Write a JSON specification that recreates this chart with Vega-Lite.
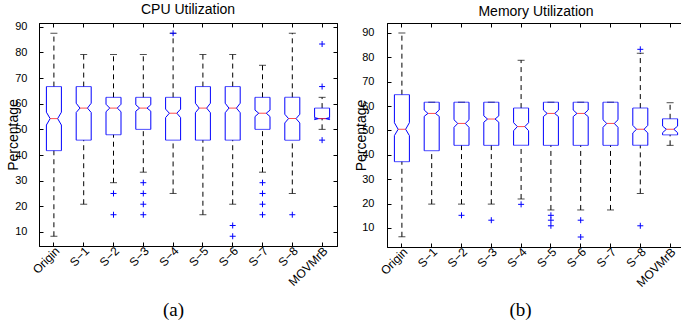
{
  "$schema": "https://vega.github.io/schema/vega-lite/v6.json",
  "padding": {"left": 5, "top": 2, "right": 0, "bottom": 0},
  "background": "white",
  "datasets": {
    "boxes": [
      {"panel": "CPU", "cat": "Origin", "lo": 8.3, "q1": 41.7, "nlo": 51.7, "med": 54.2, "nhi": 56.7, "q3": 66.7, "hi": 87.5},
      {"panel": "CPU", "cat": "S−1", "lo": 20.8, "q1": 45.8, "nlo": 56.6, "med": 58.3, "nhi": 60.2, "q3": 66.7, "hi": 79.2},
      {"panel": "CPU", "cat": "S−2", "lo": 29.2, "q1": 47.9, "nlo": 56.9, "med": 58.3, "nhi": 59.8, "q3": 62.5, "hi": 79.2},
      {"panel": "CPU", "cat": "S−3", "lo": 33.3, "q1": 50, "nlo": 57.1, "med": 58.3, "nhi": 59.6, "q3": 62.5, "hi": 79.2},
      {"panel": "CPU", "cat": "S−4", "lo": 25, "q1": 45.8, "nlo": 54.6, "med": 56.3, "nhi": 57.9, "q3": 62.5, "hi": 87.5},
      {"panel": "CPU", "cat": "S−5", "lo": 16.7, "q1": 45.8, "nlo": 56.5, "med": 58.3, "nhi": 60.2, "q3": 66.7, "hi": 79.2},
      {"panel": "CPU", "cat": "S−6", "lo": 20.8, "q1": 45.8, "nlo": 56.5, "med": 58.3, "nhi": 60.2, "q3": 66.7, "hi": 79.2},
      {"panel": "CPU", "cat": "S−7", "lo": 33.3, "q1": 50, "nlo": 55, "med": 56.3, "nhi": 57.5, "q3": 62.5, "hi": 75},
      {"panel": "CPU", "cat": "S−8", "lo": 25, "q1": 45.8, "nlo": 52.5, "med": 54.2, "nhi": 55.9, "q3": 62.5, "hi": 87.5},
      {"panel": "CPU", "cat": "MOVMrB", "lo": 50, "q1": 54.2, "nlo": 53.8, "med": 54.2, "nhi": 54.6, "q3": 58.3, "hi": 62.5},
      {"panel": "Memory", "cat": "Origin", "lo": 6.4, "q1": 37.2, "nlo": 47.9, "med": 50.5, "nhi": 53.2, "q3": 64.7, "hi": 90},
      {"panel": "Memory", "cat": "S−1", "lo": 19.8, "q1": 41.7, "nlo": 55.8, "med": 57.0, "nhi": 58.4, "q3": 61.6, "hi": 61.6},
      {"panel": "Memory", "cat": "S−2", "lo": 19.8, "q1": 43.9, "nlo": 51.3, "med": 52.9, "nhi": 54.4, "q3": 61.6, "hi": 61.6},
      {"panel": "Memory", "cat": "S−3", "lo": 19.8, "q1": 43.9, "nlo": 53.4, "med": 54.7, "nhi": 56.0, "q3": 61.6, "hi": 61.6},
      {"panel": "Memory", "cat": "S−4", "lo": 21.9, "q1": 43.9, "nlo": 49.9, "med": 51.6, "nhi": 53.2, "q3": 59.2, "hi": 78.8},
      {"panel": "Memory", "cat": "S−5", "lo": 17.4, "q1": 43.9, "nlo": 55.7, "med": 57.0, "nhi": 58.4, "q3": 61.6, "hi": 61.6},
      {"panel": "Memory", "cat": "S−6", "lo": 17.4, "q1": 43.9, "nlo": 55.7, "med": 57.0, "nhi": 58.4, "q3": 61.6, "hi": 61.6},
      {"panel": "Memory", "cat": "S−7", "lo": 17.4, "q1": 43.9, "nlo": 51.3, "med": 52.9, "nhi": 54.4, "q3": 61.6, "hi": 61.6},
      {"panel": "Memory", "cat": "S−8", "lo": 24.2, "q1": 43.9, "nlo": 49.0, "med": 50.5, "nhi": 52.1, "q3": 59.2, "hi": 81.7},
      {"panel": "Memory", "cat": "MOVMrB", "lo": 43.9, "q1": 48.2, "nlo": 49.1, "med": 50.5, "nhi": 51.8, "q3": 54.8, "hi": 61.4}
    ],
    "outliers": [
      {"panel": "CPU", "cat": "S−2", "v": 25},
      {"panel": "CPU", "cat": "S−2", "v": 16.7},
      {"panel": "CPU", "cat": "S−3", "v": 29.2},
      {"panel": "CPU", "cat": "S−3", "v": 25},
      {"panel": "CPU", "cat": "S−3", "v": 20.8},
      {"panel": "CPU", "cat": "S−3", "v": 16.7},
      {"panel": "CPU", "cat": "S−4", "v": 87.5},
      {"panel": "CPU", "cat": "S−6", "v": 12.5},
      {"panel": "CPU", "cat": "S−6", "v": 8.3},
      {"panel": "CPU", "cat": "S−7", "v": 29.2},
      {"panel": "CPU", "cat": "S−7", "v": 25},
      {"panel": "CPU", "cat": "S−7", "v": 20.8},
      {"panel": "CPU", "cat": "S−7", "v": 16.7},
      {"panel": "CPU", "cat": "S−8", "v": 16.7},
      {"panel": "CPU", "cat": "MOVMrB", "v": 83.3},
      {"panel": "CPU", "cat": "MOVMrB", "v": 66.7},
      {"panel": "CPU", "cat": "MOVMrB", "v": 45.8},
      {"panel": "Memory", "cat": "S−2", "v": 15.2},
      {"panel": "Memory", "cat": "S−3", "v": 13.2},
      {"panel": "Memory", "cat": "S−4", "v": 19.7},
      {"panel": "Memory", "cat": "S−5", "v": 15.2},
      {"panel": "Memory", "cat": "S−5", "v": 13.2},
      {"panel": "Memory", "cat": "S−5", "v": 10.9},
      {"panel": "Memory", "cat": "S−6", "v": 13.2},
      {"panel": "Memory", "cat": "S−6", "v": 6.3},
      {"panel": "Memory", "cat": "S−8", "v": 83.3},
      {"panel": "Memory", "cat": "S−8", "v": 10.9}
    ]
  },
  "spacing": 50,
  "bounds": "flush",
  "hconcat": [
    {
      "width": 298,
      "height": 223,
      "title": {"text": "CPU Utilization", "anchor": "middle", "baseline": "alphabetic", "offset": -7},
      "data": {"name": "boxes"},
      "transform": [{"filter": "datum.panel === 'CPU'"}],
      "layer": [
        {
          "mark": {"type": "rule", "color": "black", "strokeWidth": 1, "strokeDash": [5, 4]},
          "encoding": {
            "x": {"field": "cat", "type": "nominal", "scale": {"domain": ["Origin", "S−1", "S−2", "S−3", "S−4", "S−5", "S−6", "S−7", "S−8", "MOVMrB"], "paddingInner": 0, "paddingOuter": 0},
              "axis": {"orient": "bottom", "labelAngle": -45, "labelFontSize": 12, "tickSize": -4, "labelPadding": 3, "title": "(a)", "titleFont": "Liberation Serif", "titleFontSize": 19, "titleFontWeight": "normal", "titleX": 134, "titleY": 69, "titleAlign": "center", "titleBaseline": "alphabetic"}},
            "y": {"field": "q3", "type": "quantitative", "scale": {"domain": [4.5, 91.5], "nice": false, "zero": false},
              "axis": {"orient": "left", "values": [10, 20, 30, 40, 50, 60, 70, 80, 90], "tickSize": -4, "labelPadding": 16, "labelFontSize": 11, "title": "Percentage", "titleFontSize": 14, "titleFontWeight": "normal", "titleX": -22, "titleBaseline": "alphabetic"}},
            "y2": {"field": "hi"}
          }
        },
        {
          "mark": {"type": "rule", "color": "black", "strokeWidth": 1, "strokeDash": [5, 4]},
          "encoding": {
            "x": {"field": "cat", "type": "nominal", "scale": {"domain": ["Origin", "S−1", "S−2", "S−3", "S−4", "S−5", "S−6", "S−7", "S−8", "MOVMrB"], "paddingInner": 0, "paddingOuter": 0},
              "axis": {"orient": "top", "labels": false, "tickSize": -4, "title": null}},
            "y": {"field": "lo", "type": "quantitative", "scale": {"domain": [4.5, 91.5], "nice": false, "zero": false},
              "axis": {"orient": "right", "values": [10, 20, 30, 40, 50, 60, 70, 80, 90], "labels": false, "tickSize": -4, "title": null}},
            "y2": {"field": "q1"}
          }
        },
        {
          "mark": {"type": "tick", "color": "black", "size": 7, "thickness": 1},
          "encoding": {
            "x": {"field": "cat", "type": "nominal", "scale": {"domain": ["Origin", "S−1", "S−2", "S−3", "S−4", "S−5", "S−6", "S−7", "S−8", "MOVMrB"], "paddingInner": 0, "paddingOuter": 0}, "axis": null},
            "y": {"field": "hi", "type": "quantitative", "scale": {"domain": [4.5, 91.5], "nice": false, "zero": false}, "axis": null}
          }
        },
        {
          "mark": {"type": "tick", "color": "black", "size": 7, "thickness": 1},
          "encoding": {
            "x": {"field": "cat", "type": "nominal", "scale": {"domain": ["Origin", "S−1", "S−2", "S−3", "S−4", "S−5", "S−6", "S−7", "S−8", "MOVMrB"], "paddingInner": 0, "paddingOuter": 0}, "axis": null},
            "y": {"field": "lo", "type": "quantitative", "scale": {"domain": [4.5, 91.5], "nice": false, "zero": false}, "axis": null}
          }
        },
        {
          "transform": [
            {"fold": ["q1", "nlo", "med", "nhi", "q3"], "as": ["stat", "val"]},
            {"lookup": "stat", "from": {"data": {"values": [{"stat": "q1", "part": "outer", "ord": 1}, {"stat": "nlo", "part": "outer", "ord": 2}, {"stat": "med", "part": "inner", "ord": 3}, {"stat": "nhi", "part": "outer", "ord": 4}, {"stat": "q3", "part": "outer", "ord": 5}]}, "key": "stat", "fields": ["part", "ord"]}}
          ],
          "mark": {"type": "line", "color": "#0000ff", "strokeWidth": 1},
          "encoding": {
            "x": {"field": "cat", "type": "nominal", "scale": {"domain": ["Origin", "S−1", "S−2", "S−3", "S−4", "S−5", "S−6", "S−7", "S−8", "MOVMrB"], "paddingInner": 0, "paddingOuter": 0}, "axis": null},
            "xOffset": {"field": "part", "type": "nominal", "scale": {"type": "point", "domain": ["outer", "inner"], "range": [7.4, 11.15], "padding": 0}},
            "y": {"field": "val", "type": "quantitative", "scale": {"domain": [4.5, 91.5], "nice": false, "zero": false}, "axis": null},
            "detail": {"field": "cat"},
            "order": {"field": "ord", "type": "quantitative"}
          }
        },
        {
          "transform": [
            {"fold": ["q1", "nlo", "med", "nhi", "q3"], "as": ["stat", "val"]},
            {"lookup": "stat", "from": {"data": {"values": [{"stat": "q1", "part": "outer", "ord": 1}, {"stat": "nlo", "part": "outer", "ord": 2}, {"stat": "med", "part": "inner", "ord": 3}, {"stat": "nhi", "part": "outer", "ord": 4}, {"stat": "q3", "part": "outer", "ord": 5}]}, "key": "stat", "fields": ["part", "ord"]}}
          ],
          "mark": {"type": "line", "color": "#0000ff", "strokeWidth": 1},
          "encoding": {
            "x": {"field": "cat", "type": "nominal", "scale": {"domain": ["Origin", "S−1", "S−2", "S−3", "S−4", "S−5", "S−6", "S−7", "S−8", "MOVMrB"], "paddingInner": 0, "paddingOuter": 0}, "axis": null},
            "xOffset": {"field": "part", "type": "nominal", "scale": {"type": "point", "domain": ["outer", "inner"], "range": [22.4, 18.65], "padding": 0}},
            "y": {"field": "val", "type": "quantitative", "scale": {"domain": [4.5, 91.5], "nice": false, "zero": false}, "axis": null},
            "detail": {"field": "cat"},
            "order": {"field": "ord", "type": "quantitative"}
          }
        },
        {
          "mark": {"type": "tick", "color": "#0000ff", "size": 15, "thickness": 1},
          "encoding": {
            "x": {"field": "cat", "type": "nominal", "scale": {"domain": ["Origin", "S−1", "S−2", "S−3", "S−4", "S−5", "S−6", "S−7", "S−8", "MOVMrB"], "paddingInner": 0, "paddingOuter": 0}, "axis": null},
            "y": {"field": "q3", "type": "quantitative", "scale": {"domain": [4.5, 91.5], "nice": false, "zero": false}, "axis": null}
          }
        },
        {
          "mark": {"type": "tick", "color": "#0000ff", "size": 15, "thickness": 1},
          "encoding": {
            "x": {"field": "cat", "type": "nominal", "scale": {"domain": ["Origin", "S−1", "S−2", "S−3", "S−4", "S−5", "S−6", "S−7", "S−8", "MOVMrB"], "paddingInner": 0, "paddingOuter": 0}, "axis": null},
            "y": {"field": "q1", "type": "quantitative", "scale": {"domain": [4.5, 91.5], "nice": false, "zero": false}, "axis": null}
          }
        },
        {
          "mark": {"type": "tick", "color": "#ff0000", "size": 7.5, "thickness": 1},
          "encoding": {
            "x": {"field": "cat", "type": "nominal", "scale": {"domain": ["Origin", "S−1", "S−2", "S−3", "S−4", "S−5", "S−6", "S−7", "S−8", "MOVMrB"], "paddingInner": 0, "paddingOuter": 0}, "axis": null},
            "y": {"field": "med", "type": "quantitative", "scale": {"domain": [4.5, 91.5], "nice": false, "zero": false}, "axis": null}
          }
        },
        {
          "data": {"name": "outliers"},
          "transform": [{"filter": "datum.panel === 'CPU'"}],
          "mark": {"type": "point", "shape": "M-1,0L1,0M0,-1L0,1", "filled": false, "color": "#0000ff", "strokeWidth": 1, "size": 36, "opacity": 1},
          "encoding": {
            "x": {"field": "cat", "type": "nominal", "scale": {"domain": ["Origin", "S−1", "S−2", "S−3", "S−4", "S−5", "S−6", "S−7", "S−8", "MOVMrB"], "paddingInner": 0, "paddingOuter": 0}, "axis": null},
            "y": {"field": "v", "type": "quantitative", "scale": {"domain": [4.5, 91.5], "nice": false, "zero": false}, "axis": null}
          }
        }
      ],
      "resolve": {"axis": {"x": "independent", "y": "independent"}, "scale": {"xOffset": "independent"}}
    },
    {
      "width": 298,
      "height": 224,
      "title": {"text": "Memory Utilization", "anchor": "middle", "baseline": "alphabetic", "offset": -7},
      "data": {"name": "boxes"},
      "transform": [{"filter": "datum.panel === 'Memory'"}],
      "layer": [
        {
          "mark": {"type": "rule", "color": "black", "strokeWidth": 1, "strokeDash": [5, 4]},
          "encoding": {
            "x": {"field": "cat", "type": "nominal", "scale": {"domain": ["Origin", "S−1", "S−2", "S−3", "S−4", "S−5", "S−6", "S−7", "S−8", "MOVMrB"], "paddingInner": 0, "paddingOuter": 0},
              "axis": {"orient": "bottom", "labelAngle": -45, "labelFontSize": 12, "tickSize": -4, "labelPadding": 3, "title": "(b)", "titleFont": "Liberation Serif", "titleFontSize": 19, "titleFontWeight": "normal", "titleX": 133, "titleY": 68, "titleAlign": "center", "titleBaseline": "alphabetic"}},
            "y": {"field": "q3", "type": "quantitative", "scale": {"domain": [2.2, 94.1], "nice": false, "zero": false},
              "axis": {"orient": "left", "values": [10, 20, 30, 40, 50, 60, 70, 80, 90], "tickSize": -4, "labelPadding": 17, "labelFontSize": 11, "title": "Percentage", "titleFontSize": 14, "titleFontWeight": "normal", "titleX": -22, "titleBaseline": "alphabetic"}},
            "y2": {"field": "hi"}
          }
        },
        {
          "mark": {"type": "rule", "color": "black", "strokeWidth": 1, "strokeDash": [5, 4]},
          "encoding": {
            "x": {"field": "cat", "type": "nominal", "scale": {"domain": ["Origin", "S−1", "S−2", "S−3", "S−4", "S−5", "S−6", "S−7", "S−8", "MOVMrB"], "paddingInner": 0, "paddingOuter": 0},
              "axis": {"orient": "top", "labels": false, "tickSize": -4, "title": null}},
            "y": {"field": "lo", "type": "quantitative", "scale": {"domain": [2.2, 94.1], "nice": false, "zero": false},
              "axis": {"orient": "right", "values": [10, 20, 30, 40, 50, 60, 70, 80, 90], "labels": false, "tickSize": -4, "title": null}},
            "y2": {"field": "q1"}
          }
        },
        {
          "mark": {"type": "tick", "color": "black", "size": 7, "thickness": 1},
          "encoding": {
            "x": {"field": "cat", "type": "nominal", "scale": {"domain": ["Origin", "S−1", "S−2", "S−3", "S−4", "S−5", "S−6", "S−7", "S−8", "MOVMrB"], "paddingInner": 0, "paddingOuter": 0}, "axis": null},
            "y": {"field": "hi", "type": "quantitative", "scale": {"domain": [2.2, 94.1], "nice": false, "zero": false}, "axis": null}
          }
        },
        {
          "mark": {"type": "tick", "color": "black", "size": 7, "thickness": 1},
          "encoding": {
            "x": {"field": "cat", "type": "nominal", "scale": {"domain": ["Origin", "S−1", "S−2", "S−3", "S−4", "S−5", "S−6", "S−7", "S−8", "MOVMrB"], "paddingInner": 0, "paddingOuter": 0}, "axis": null},
            "y": {"field": "lo", "type": "quantitative", "scale": {"domain": [2.2, 94.1], "nice": false, "zero": false}, "axis": null}
          }
        },
        {
          "transform": [
            {"fold": ["q1", "nlo", "med", "nhi", "q3"], "as": ["stat", "val"]},
            {"lookup": "stat", "from": {"data": {"values": [{"stat": "q1", "part": "outer", "ord": 1}, {"stat": "nlo", "part": "outer", "ord": 2}, {"stat": "med", "part": "inner", "ord": 3}, {"stat": "nhi", "part": "outer", "ord": 4}, {"stat": "q3", "part": "outer", "ord": 5}]}, "key": "stat", "fields": ["part", "ord"]}}
          ],
          "mark": {"type": "line", "color": "#0000ff", "strokeWidth": 1},
          "encoding": {
            "x": {"field": "cat", "type": "nominal", "scale": {"domain": ["Origin", "S−1", "S−2", "S−3", "S−4", "S−5", "S−6", "S−7", "S−8", "MOVMrB"], "paddingInner": 0, "paddingOuter": 0}, "axis": null},
            "xOffset": {"field": "part", "type": "nominal", "scale": {"type": "point", "domain": ["outer", "inner"], "range": [7.4, 11.15], "padding": 0}},
            "y": {"field": "val", "type": "quantitative", "scale": {"domain": [2.2, 94.1], "nice": false, "zero": false}, "axis": null},
            "detail": {"field": "cat"},
            "order": {"field": "ord", "type": "quantitative"}
          }
        },
        {
          "transform": [
            {"fold": ["q1", "nlo", "med", "nhi", "q3"], "as": ["stat", "val"]},
            {"lookup": "stat", "from": {"data": {"values": [{"stat": "q1", "part": "outer", "ord": 1}, {"stat": "nlo", "part": "outer", "ord": 2}, {"stat": "med", "part": "inner", "ord": 3}, {"stat": "nhi", "part": "outer", "ord": 4}, {"stat": "q3", "part": "outer", "ord": 5}]}, "key": "stat", "fields": ["part", "ord"]}}
          ],
          "mark": {"type": "line", "color": "#0000ff", "strokeWidth": 1},
          "encoding": {
            "x": {"field": "cat", "type": "nominal", "scale": {"domain": ["Origin", "S−1", "S−2", "S−3", "S−4", "S−5", "S−6", "S−7", "S−8", "MOVMrB"], "paddingInner": 0, "paddingOuter": 0}, "axis": null},
            "xOffset": {"field": "part", "type": "nominal", "scale": {"type": "point", "domain": ["outer", "inner"], "range": [22.4, 18.65], "padding": 0}},
            "y": {"field": "val", "type": "quantitative", "scale": {"domain": [2.2, 94.1], "nice": false, "zero": false}, "axis": null},
            "detail": {"field": "cat"},
            "order": {"field": "ord", "type": "quantitative"}
          }
        },
        {
          "mark": {"type": "tick", "color": "#0000ff", "size": 15, "thickness": 1},
          "encoding": {
            "x": {"field": "cat", "type": "nominal", "scale": {"domain": ["Origin", "S−1", "S−2", "S−3", "S−4", "S−5", "S−6", "S−7", "S−8", "MOVMrB"], "paddingInner": 0, "paddingOuter": 0}, "axis": null},
            "y": {"field": "q3", "type": "quantitative", "scale": {"domain": [2.2, 94.1], "nice": false, "zero": false}, "axis": null}
          }
        },
        {
          "mark": {"type": "tick", "color": "#0000ff", "size": 15, "thickness": 1},
          "encoding": {
            "x": {"field": "cat", "type": "nominal", "scale": {"domain": ["Origin", "S−1", "S−2", "S−3", "S−4", "S−5", "S−6", "S−7", "S−8", "MOVMrB"], "paddingInner": 0, "paddingOuter": 0}, "axis": null},
            "y": {"field": "q1", "type": "quantitative", "scale": {"domain": [2.2, 94.1], "nice": false, "zero": false}, "axis": null}
          }
        },
        {
          "mark": {"type": "tick", "color": "#ff0000", "size": 7.5, "thickness": 1},
          "encoding": {
            "x": {"field": "cat", "type": "nominal", "scale": {"domain": ["Origin", "S−1", "S−2", "S−3", "S−4", "S−5", "S−6", "S−7", "S−8", "MOVMrB"], "paddingInner": 0, "paddingOuter": 0}, "axis": null},
            "y": {"field": "med", "type": "quantitative", "scale": {"domain": [2.2, 94.1], "nice": false, "zero": false}, "axis": null}
          }
        },
        {
          "data": {"name": "outliers"},
          "transform": [{"filter": "datum.panel === 'Memory'"}],
          "mark": {"type": "point", "shape": "M-1,0L1,0M0,-1L0,1", "filled": false, "color": "#0000ff", "strokeWidth": 1, "size": 36, "opacity": 1},
          "encoding": {
            "x": {"field": "cat", "type": "nominal", "scale": {"domain": ["Origin", "S−1", "S−2", "S−3", "S−4", "S−5", "S−6", "S−7", "S−8", "MOVMrB"], "paddingInner": 0, "paddingOuter": 0}, "axis": null},
            "y": {"field": "v", "type": "quantitative", "scale": {"domain": [2.2, 94.1], "nice": false, "zero": false}, "axis": null}
          }
        }
      ],
      "resolve": {"axis": {"x": "independent", "y": "independent"}, "scale": {"xOffset": "independent"}}
    }
  ],
  "config": {
    "view": {"stroke": "black", "strokeWidth": 1},
    "axis": {"grid": false, "domainColor": "black", "domainWidth": 1, "tickColor": "black", "tickWidth": 1, "labelColor": "black", "titleColor": "black", "labelFont": "Liberation Sans", "titleFont": "Liberation Sans"},
    "title": {"font": "Liberation Sans", "fontSize": 14, "fontWeight": "normal", "color": "black"}
  }
}
